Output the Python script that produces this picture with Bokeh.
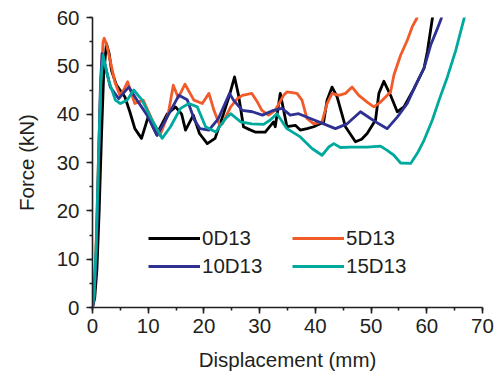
from bokeh.plotting import figure
from bokeh.models import Range1d, SingleIntervalTicker, Legend, LegendItem
from bokeh.embed import file_html
from bokeh.resources import INLINE

# ---- data ----
x_0d13 = [0, 0.4, 0.8, 1.2, 1.6, 2.0, 2.5, 3.0, 3.4, 4.3, 5.8, 6.7, 7.6, 8.8, 10.0, 11.5,
          13.4, 14.9, 16.0, 16.7, 18.1, 19.2, 20.6, 22.0, 23.5, 24.6, 25.5, 26.2, 27.1,
          28.2, 29.2, 31.0, 32.5, 32.8, 33.7, 34.9, 36.4, 37.3, 38.5, 39.7, 41.5, 42.1,
          43.0, 43.9, 45.4, 47.2, 48.3, 49.3, 50.8, 51.4, 52.3, 53.5, 54.7, 55.9, 57.7,
          59.5, 60.1, 61.0, 61.5]
y_0d13 = [0, 2, 8, 20, 35, 48, 54.6, 52.5, 49.1, 46, 43.6, 40.5, 37, 35, 39.5, 35.8,
          40, 41.5, 40, 36.7, 39.8, 36, 33.9, 35, 40, 44, 47.7, 44, 37.4,
          36.8, 36.3, 36.3, 38.4, 37.4, 44.3, 37.4, 37.7, 36.7, 37, 37.4, 38.4, 42.9,
          45.6, 43.6, 37.4, 34.3, 34.8, 36, 38.8, 44.3, 46.8, 43.9, 40.5, 41.5, 45.3,
          49.5, 52.9, 59.8, 62]

x_5d13 = [0, 0.3, 0.7, 1.1, 1.5, 1.9, 2.1, 2.5, 3.1, 4.0, 4.9, 5.6, 6.3, 7.6, 9.1, 10.6,
          12.1, 13.6, 14.5, 15.4, 16.6, 18.2, 19.7, 20.9, 21.8, 22.8, 23.3, 24.8, 26.0,
          26.9, 28.6, 29.6, 30.4, 31.6, 32.8, 34.3, 34.9, 36.7, 37.6, 38.5, 39.7, 41.2,
          42.1, 43.0, 44.2, 45.4, 46.6, 47.8, 49.3, 50.5, 51.7, 53.5, 54.1, 55.3, 56.5,
          57.4, 58.2, 58.8]
y_5d13 = [0, 3, 15, 32, 47, 55, 55.7, 54.5, 51.5, 46.7, 43.9, 45, 46.7, 42.2, 42.9, 39.1,
          35.6, 40.1, 46, 43.4, 46.2, 42.9, 42.2, 44.3, 40.8, 37.8, 38, 41.5, 43.2,
          43.9, 44.3, 42.5, 40.8, 39.8, 40.8, 43.9, 44.6, 44.3, 42.9, 39.1, 38, 38.4,
          42.2, 44.3, 43.9, 44.3, 45.6, 43.9, 42.5, 41.5, 42.5, 44.6, 48.1, 52.2, 55.3,
          58.1, 59.8, 62]

x_10d13 = [0, 0.3, 0.7, 1.1, 1.4, 1.7, 2.2, 3.2, 4.7, 6.5, 8.0, 9.8, 11.6, 13.4, 15.5,
           17.0, 18.3, 19.3, 20.9, 22.6, 24.6, 25.3, 26.9, 28.7, 30.5, 32.5, 34.0, 35.5,
           37.0, 39.1, 41.5, 43.6, 45.7, 48.1, 49.9, 51.4, 52.9, 54.7, 56.5, 58.0, 59.5,
           60.7, 61.9, 62.6, 63.0]
y_10d13 = [0, 2, 12, 30, 45, 52.5, 50.5, 45.6, 43.2, 45.6, 42.9, 39.8, 35.6, 39.4, 43.9,
           43, 38.8, 37, 36.7, 39.1, 44.3, 42.9, 40.8, 40.5, 39.8, 40.8, 41.2, 39.8,
           40.1, 39.1, 38, 37, 38, 40.5, 39.1, 38, 37, 39.4, 42.2, 46, 49.5,
           54.3, 57.7, 59.8, 62]

x_15d13 = [0, 0.3, 0.7, 1.1, 1.5, 1.9, 2.3, 2.9, 4.1, 5.0, 6.2, 7.4, 8.9, 10.4, 12.5, 14.0,
           15.8, 17.3, 18.8, 20.3, 22.1, 23.9, 24.8, 26.6, 28.6, 30.7, 31.9, 33.1, 34.9,
           37.3, 39.4, 41.2, 42.4, 43.3, 44.5, 46.3, 49.3, 51.7, 52.9, 54.1, 55.3, 57.1,
           58.3, 59.5, 61.0, 62.2, 63.7, 65.2, 66.7, 67.2]
y_15d13 = [0, 3, 14, 32, 47, 52.2, 50, 47, 42.9, 42.2, 42.9, 45, 42.9, 39.4, 35, 37.4,
           41.2, 42.2, 41.5, 37.4, 36.3, 39.1, 40.1, 38.4, 38, 37.9, 38.8, 40.1, 37,
           35.3, 32.9, 31.5, 33.2, 33.9, 33.1, 33.2, 33.2, 33.4, 32.5, 31.5, 29.9, 29.8,
           31.9, 34.6, 38.8, 42.9, 47.7, 53.2, 59.8, 62]

series_names = ["0D13", "5D13", "10D13", "15D13"]
colors = ["#000000", "#F15A29", "#2E3192", "#00A99D"]

FONT = "Liberation Sans"
TXT = "#231F20"
FS = "20.5px"

p = figure(width=501, height=380, output_backend="svg", toolbar_location=None,
           x_range=Range1d(0, 70), y_range=Range1d(0, 60),
           min_border_left=92, min_border_right=19, min_border_top=17, min_border_bottom=73)
p.outline_line_color = None
p.xgrid.visible = False
p.ygrid.visible = False
p.background_fill_color = "white"
p.border_fill_color = "white"

renderers = []
for xs, ys, c in zip([x_0d13, x_5d13, x_10d13, x_15d13],
                     [y_0d13, y_5d13, y_10d13, y_15d13], colors):
    r = p.line(xs, ys, line_color=c, line_width=2.8, line_join="round")
    renderers.append(r)

p.xaxis.ticker = SingleIntervalTicker(interval=10, num_minor_ticks=2)
p.yaxis.ticker = SingleIntervalTicker(interval=10, num_minor_ticks=2)
for ax in (p.xaxis[0], p.yaxis[0]):
    ax.axis_line_color = TXT
    ax.axis_line_width = 1.6
    ax.major_tick_line_color = TXT
    ax.minor_tick_line_color = TXT
    ax.major_tick_line_width = 1.6
    ax.minor_tick_line_width = 1.6
    ax.major_tick_in = 0
    ax.major_tick_out = 6
    ax.minor_tick_in = 0
    ax.minor_tick_out = 3
    ax.major_label_text_font = FONT
    ax.major_label_text_font_size = FS
    ax.major_label_text_color = TXT
    ax.axis_label_text_font = FONT
    ax.axis_label_text_font_size = FS
    ax.axis_label_text_font_style = "normal"
    ax.axis_label_text_color = TXT

p.xaxis.axis_label = "Displacement (mm)"
p.yaxis.axis_label = "Force (kN)"
p.xaxis.major_label_standoff = 5
p.yaxis.major_label_standoff = 7
p.xaxis.axis_label_standoff = 12
p.yaxis.axis_label_standoff = 16

items = [LegendItem(label=n, renderers=[r]) for n, r in zip(series_names, renderers)]
legend = Legend(items=items, orientation="horizontal", ncols=2,
                location=(56, 29), padding=0, margin=0, spacing=4,
                glyph_width=52, glyph_height=24, label_standoff=2,
                label_width=86, label_height=24,
                label_text_font=FONT, label_text_font_size=FS,
                label_text_color=TXT,
                border_line_color=None, background_fill_alpha=0)
p.add_layout(legend, "center")

open("out.html", "w").write(file_html(p, INLINE))
